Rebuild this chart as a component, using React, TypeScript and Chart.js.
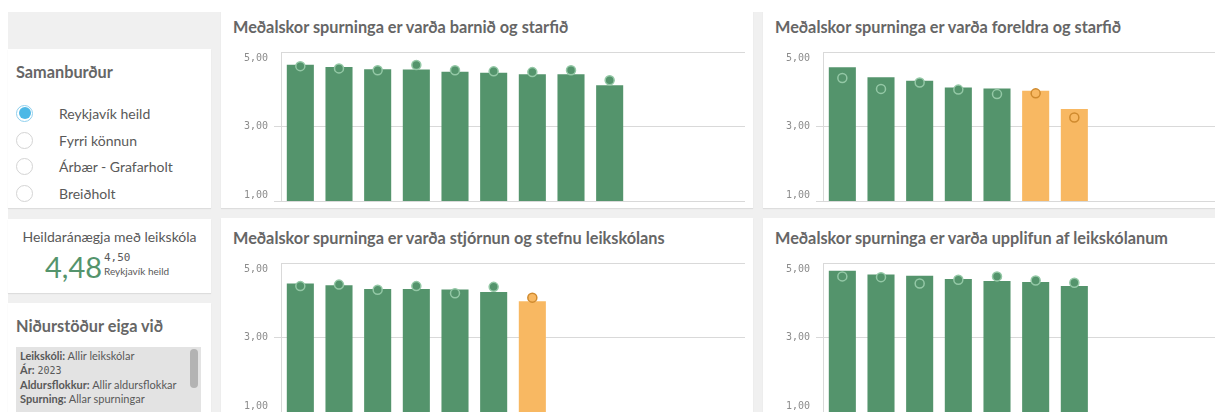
import React, { useEffect, useRef } from 'react';
import { Chart, registerables } from 'chart.js';

Chart.register(...registerables);

// ---------- data ----------
const SLOTS = 12;
const THRESHOLD = 4;
const Y_MIN = 1;
const Y_MAX = 5;
const Y_STEP = 2;

const compareLabel = 'Reykjavík heild';

const barnidTitle = 'Meðalskor spurninga er varða barnið og starfið';
const barnidQuestions = ['Spurning 1', 'Spurning 2', 'Spurning 3', 'Spurning 4', 'Spurning 5', 'Spurning 6', 'Spurning 7', 'Spurning 8', 'Spurning 9'];
const barnidScores = [4.66, 4.6, 4.54, 4.53, 4.47, 4.44, 4.4, 4.4, 4.11];
const barnidReykjavik = [4.62, 4.56, 4.51, 4.65, 4.51, 4.48, 4.46, 4.51, 4.24];

const foreldraTitle = 'Meðalskor spurninga er varða foreldra og starfið';
const foreldraQuestions = ['Spurning 1', 'Spurning 2', 'Spurning 3', 'Spurning 4', 'Spurning 5', 'Spurning 6', 'Spurning 7'];
const foreldraScores = [4.59, 4.32, 4.23, 4.05, 4.02, 3.96, 3.47];
const foreldraReykjavik = [4.3, 4.01, 4.18, 3.99, 3.87, 3.89, 3.24];

const stjornunTitle = 'Meðalskor spurninga er varða stjórnun og stefnu leikskólans';
const stjornunQuestions = ['Spurning 1', 'Spurning 2', 'Spurning 3', 'Spurning 4', 'Spurning 5', 'Spurning 6', 'Spurning 7'];
const stjornunScores = [4.45, 4.4, 4.3, 4.3, 4.29, 4.22, 3.97];
const stjornunReykjavik = [4.38, 4.42, 4.28, 4.38, 4.19, 4.36, 4.07];

const upplifunTitle = 'Meðalskor spurninga er varða upplifun af leikskólanum';
const upplifunQuestions = ['Spurning 1', 'Spurning 2', 'Spurning 3', 'Spurning 4', 'Spurning 5', 'Spurning 6', 'Spurning 7'];
const upplifunScores = [4.79, 4.69, 4.66, 4.57, 4.52, 4.49, 4.38];
const upplifunReykjavik = [4.64, 4.62, 4.45, 4.55, 4.64, 4.53, 4.47];

const comparisonOptions = ['Reykjavík heild', 'Fyrri könnun', 'Árbær - Grafarholt', 'Breiðholt'];
const selectedComparison = 0;

const kpiTitle = 'Heildaránægja með leikskóla';
const kpiValue = 4.48;
const kpiCompare = 4.5;

const filterKeys = ['Leikskóli', 'Ár', 'Aldursflokkur', 'Spurning'];
const filterValues = ['Allir leikskólar', '2023', 'Allir aldursflokkar', 'Allar spurningar'];

// ---------- style ----------
const GREEN = '#54946c';
const GREEN_LIGHT = '#94c8a6';
const ORANGE = '#f8b862';
const ORANGE_DARK = '#cf8a2e';
const GRID = '#d9d9d9';
const PAGE_BG = '#f0f0f0';
const TEXT = '#595959';
const TITLE = '#666666';
const FONT = 'Lato, "Open Sans", sans-serif';
const MONO = '"DejaVu Sans Mono", monospace';

const fmt = (v: number) => v.toFixed(2).replace('.', ',');

function ScoreChart({ questions, scores, compare }: { questions: string[]; scores: number[]; compare: number[] }) {
  const ref = useRef<HTMLCanvasElement>(null);
  useEffect(() => {
    const labels = [...questions, ...Array(Math.max(0, SLOTS - questions.length)).fill('')];
    const fill = scores.map((v) => (v < THRESHOLD ? ORANGE : GREEN));
    const ring = scores.map((v) => (v < THRESHOLD ? ORANGE_DARK : GREEN_LIGHT));
    const chart = new Chart(ref.current as HTMLCanvasElement, {
      type: 'bar',
      data: {
        labels,
        datasets: [
          {
            type: 'line',
            label: compareLabel,
            data: compare,
            showLine: false,
            pointRadius: 4.5,
            pointBackgroundColor: fill,
            pointBorderColor: ring,
            pointBorderWidth: 1.5,
            order: 0,
          } as any,
          {
            type: 'bar',
            label: 'Meðalskor',
            data: scores,
            backgroundColor: fill,
            borderWidth: 0,
            barPercentage: 0.7,
            categoryPercentage: 1,
            order: 1,
          },
        ],
      },
      options: {
        animation: false,
        responsive: false,
        devicePixelRatio: 1,
        layout: { padding: { top: 10, bottom: 7, left: 0, right: 8 } },
        plugins: { legend: { display: false }, tooltip: { enabled: false }, title: { display: false } },
        scales: {
          x: { type: 'category', display: false, offset: true },
          y: {
            min: Y_MIN,
            max: Y_MAX,
            afterFit: (s: any) => {
              s.width = 60;
              s.paddingTop = 0;
              s.paddingBottom = 0;
            },
            ticks: {
              stepSize: Y_STEP,
              padding: 6,
              color: '#8c8c8c',
              font: { family: MONO, size: 10 },
              callback: (v: any) => {
                const n = Number(v);
                const t = fmt(n);
                if (n === Y_MAX) return ['', t];
                if (n === Y_MIN) return [t, ''];
                return t;
              },
            },
            grid: {
              color: GRID,
              tickLength: 7,
              tickColor: (ctx: any) => (ctx.tick && ctx.tick.value === Y_MAX ? 'rgba(0,0,0,0)' : GRID),
            },
            border: { display: true, color: GRID },
          },
        },
      },
    });
    return () => chart.destroy();
  }, [questions, scores, compare]);
  return <canvas ref={ref} width={532} height={166} style={{ position: 'absolute', left: 0, top: 35, width: 532, height: 166 }} />;
}

function ChartPanel(props: { left: number; top: number; title: string; questions: string[]; scores: number[]; compare: number[] }) {
  return (
    <div style={{ position: 'absolute', left: props.left, top: props.top, width: 532, height: 201, background: '#fff', boxShadow: '0 1px 1px rgba(0,0,0,0.08)' }}>
      <div style={{ position: 'absolute', left: 12, top: 10, fontSize: 16.3, fontWeight: 700, lineHeight: '20px', color: TITLE, whiteSpace: 'nowrap' }}>{props.title}</div>
      <ScoreChart questions={props.questions} scores={props.scores} compare={props.compare} />
    </div>
  );
}

function Radio({ selected }: { selected: boolean }) {
  if (selected) {
    return (
      <div style={{ position: 'absolute', left: 0, top: 0, width: 15, height: 15, borderRadius: '50%', border: '1px solid #8fd0ee', background: '#fff' }}>
        <div style={{ position: 'absolute', left: 1.5, top: 1.5, width: 12, height: 12, borderRadius: '50%', background: '#4db8e6' }} />
      </div>
    );
  }
  return <div style={{ position: 'absolute', left: 0, top: 0, width: 15, height: 15, borderRadius: '50%', border: '1px solid #d4d4d4', background: '#fff' }} />;
}

export default function App() {
  const leftPanel = { position: 'absolute' as const, left: 8, width: 203, background: '#fff', boxShadow: '0 1px 1px rgba(0,0,0,0.08)' };
  return (
    <div style={{ position: 'fixed', left: 0, top: 0, width: 1215, height: 412, overflow: 'hidden', background: '#fff', fontFamily: FONT, color: TEXT }}>
      <div style={{ position: 'absolute', left: 8, top: 12, right: 0, bottom: 0, background: PAGE_BG }} />

      {/* Samanburður */}
      <div style={{ ...leftPanel, top: 49, height: 159 }}>
        <div style={{ position: 'absolute', left: 8, top: 13, fontSize: 16.3, fontWeight: 700, lineHeight: '20px', color: TITLE }}>Samanburður</div>
        {comparisonOptions.map((o, i) => (
          <div key={o} style={{ position: 'absolute', left: 0, top: 64.3 + i * 26.7 - 8.5, width: 203, height: 17 }}>
            <div style={{ position: 'absolute', left: 8, top: 0 }}>
              <Radio selected={i === selectedComparison} />
            </div>
            <div style={{ position: 'absolute', left: 51, top: 0, fontSize: 14, lineHeight: '17px', whiteSpace: 'nowrap' }}>{o}</div>
          </div>
        ))}
      </div>

      {/* KPI */}
      <div style={{ ...leftPanel, top: 219, height: 74 }}>
        <div style={{ position: 'absolute', left: 0, top: 9, width: 203, textAlign: 'center', fontSize: 14, lineHeight: '17px' }}>{kpiTitle}</div>
        <div style={{ position: 'absolute', left: 37, top: 32.5, fontSize: 29, lineHeight: '29px', color: GREEN }}>{fmt(kpiValue)}</div>
        <div style={{ position: 'absolute', left: 96, top: 33, fontSize: 11, lineHeight: '12px', fontFamily: MONO }}>{fmt(kpiCompare)}</div>
        <div style={{ position: 'absolute', left: 96, top: 45.6, fontSize: 10, lineHeight: '12px', whiteSpace: 'nowrap' }}>{compareLabel}</div>
      </div>

      {/* Niðurstöður */}
      <div style={{ ...leftPanel, top: 303, height: 120 }}>
        <div style={{ position: 'absolute', left: 8, top: 13, fontSize: 16.3, fontWeight: 700, lineHeight: '20px', color: TITLE }}>Niðurstöður eiga við</div>
        <div style={{ position: 'absolute', left: 8, top: 44, width: 185, height: 80, background: '#e3e3e3' }}>
          <div style={{ position: 'absolute', left: 4, top: 2, fontSize: 11, lineHeight: '14px' }}>
            {filterKeys.map((k, i) => (
              <div key={k} style={{ whiteSpace: 'nowrap' }}>
                <b>{k}:</b>{' '}
                <span style={{ fontFamily: /\d/.test(filterValues[i]) ? MONO : FONT, fontSize: /\d/.test(filterValues[i]) ? 10 : 11 }}>{filterValues[i]}</span>
              </div>
            ))}
          </div>
          <div style={{ position: 'absolute', left: 174, top: 1.5, width: 8, height: 39, borderRadius: 4, background: '#b3b3b3' }} />
        </div>
      </div>

      <ChartPanel left={221} top={7} title={barnidTitle} questions={barnidQuestions} scores={barnidScores} compare={barnidReykjavik} />
      <ChartPanel left={763} top={7} title={foreldraTitle} questions={foreldraQuestions} scores={foreldraScores} compare={foreldraReykjavik} />
      <ChartPanel left={221} top={218} title={stjornunTitle} questions={stjornunQuestions} scores={stjornunScores} compare={stjornunReykjavik} />
      <ChartPanel left={763} top={218} title={upplifunTitle} questions={upplifunQuestions} scores={upplifunScores} compare={upplifunReykjavik} />

      <div style={{ position: 'absolute', left: 0, top: 0, width: 1215, height: 12, background: '#fff' }} />
    </div>
  );
}
